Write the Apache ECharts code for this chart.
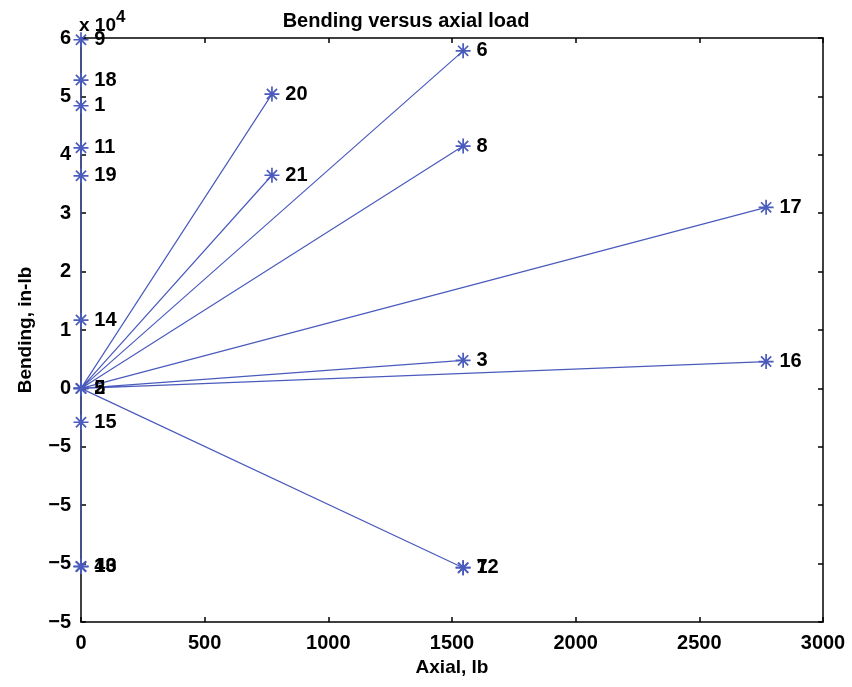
<!DOCTYPE html>
<html><head><meta charset="utf-8">
<script src="https://cdn.jsdelivr.net/npm/echarts@6/dist/echarts.min.js"></script>
<style>html,body{margin:0;padding:0;background:#fff}#c{width:852px;height:687px}</style>
</head><body><div id="c"></div>
<script>
// ---- data ----
const pointIds   = ['9','18','1','11','19','14','5','2','15','13','10','4','20','21','6','8','3','12','7','17','16'];
const axialLb    = [0, 0, 0, 0, 0, 0, 0, 0, 0, 0, 0, 0, 772, 772, 1545, 1545, 1545, 1545, 1545, 2770, 2770];
const bendingInLb= [59700, 52800, 48400, 41200, 36400, 11700, 0, 0, -5800, -30500, -30500, -30500, 50400, 36500, 57800, 41500, 4800, -30700, -30700, 31000, 4600];
const originPt   = [0, 0];
const xTickValues = [0, 500, 1000, 1500, 2000, 2500, 3000];
const yTickLabels = ['\u22125', '\u22125', '\u22125', '\u22125', '0', '1', '2', '3', '4', '5', '6']; // for -40000 .. 60000

const FONT = '"Liberation Sans", Arial, Helvetica, sans-serif';
const BLUE = '#4a5bbd';
const STAR = 'path://M5,0L5,10M0,5L10,5M1.6,1.6L8.4,8.4M1.6,8.4L8.4,1.6';

const lineData = [];
const pts = [];
pointIds.forEach((id, i) => {
  lineData.push(originPt, [axialLb[i], bendingInLb[i]], '-');
  pts.push({ name: id, value: [axialLb[i], bendingInLb[i]] });
});

const chart = echarts.init(document.getElementById('c'), null, { renderer: 'canvas' });
const tickStyle = { show: true, inside: true, length: 5, lineStyle: { color: '#000', width: 1.5 } };
const xBase = { type: 'value', min: 0, max: 3000, interval: 500, splitLine: { show: false } };
const yBase = { type: 'value', min: -40000, max: 60000, interval: 10000, splitLine: { show: false } };

chart.setOption({
  animation: false,
  backgroundColor: '#fff',
  grid: { left: 81, right: 29, top: 38, bottom: 65, containLabel: false },
  title: {
    text: 'Bending versus axial load', left: 401, top: 6, textAlign: 'center',
    textStyle: { fontFamily: FONT, fontSize: 20, fontWeight: 'bold', color: '#000' }
  },
  graphic: [{
    type: 'text', left: 79, top: 9,
    style: {
      text: '{a|x 10}{b|4}',
      rich: {
        a: { fontFamily: FONT, fontSize: 19, fontWeight: 'bold', fill: '#000', verticalAlign: 'bottom', lineHeight: 26 },
        b: { fontFamily: FONT, fontSize: 17, fontWeight: 'bold', fill: '#000', verticalAlign: 'top', lineHeight: 26, padding: [0,0,8,0] }
      }
    }
  }],
  xAxis: [
    Object.assign({}, xBase, {
      position: 'bottom',
      name: 'Axial, lb', nameLocation: 'middle', nameGap: 36,
      nameTextStyle: { fontFamily: FONT, fontSize: 19, fontWeight: 'bold', color: '#000' },
      axisLine: { onZero: false, lineStyle: { color: '#000', width: 1.5 } },
      axisTick: tickStyle,
      axisLabel: { margin: 11, fontFamily: FONT, fontSize: 20, fontWeight: 'bold', color: '#000',
        formatter: v => xTickValues.includes(v) ? String(v) : '' }
    }),
    Object.assign({}, xBase, {
      position: 'top',
      axisLine: { onZero: false, lineStyle: { color: '#000', width: 1.5 } },
      axisTick: tickStyle, axisLabel: { show: false }
    })
  ],
  yAxis: [
    Object.assign({}, yBase, {
      position: 'left',
      name: 'Bending, in-lb', nameLocation: 'middle', nameGap: 46,
      nameTextStyle: { fontFamily: FONT, fontSize: 19, fontWeight: 'bold', color: '#000' },
      axisLine: { onZero: false, lineStyle: { color: '#000', width: 1.5 } },
      axisTick: tickStyle,
      axisLabel: { margin: 10, fontFamily: FONT, fontSize: 20, fontWeight: 'bold', color: '#000',
        formatter: v => yTickLabels[Math.round((v + 40000) / 10000)] }
    }),
    Object.assign({}, yBase, {
      position: 'right',
      axisLine: { onZero: false, lineStyle: { color: '#000', width: 1.5 } },
      axisTick: tickStyle, axisLabel: { show: false }
    })
  ],
  series: [
    {
      type: 'line', xAxisIndex: 0, yAxisIndex: 0,
      data: lineData, showSymbol: false, connectNulls: false,
      lineStyle: { color: BLUE, width: 1.2 }, z: 3
    },
    {
      type: 'scatter', xAxisIndex: 0, yAxisIndex: 0,
      data: [{ name: '', value: originPt }].concat(pts),
      symbol: STAR, symbolSize: 15,
      itemStyle: { color: 'rgba(0,0,0,0)', borderColor: BLUE, borderWidth: 1.7, opacity: 1 },
      label: { show: true, position: 'right', distance: 5, formatter: '{b}',
        fontFamily: FONT, fontSize: 20, fontWeight: 'bold', color: '#000' },
      labelLayout: { hideOverlap: false },
      z: 4
    }
  ]
});
</script>
</body></html>
